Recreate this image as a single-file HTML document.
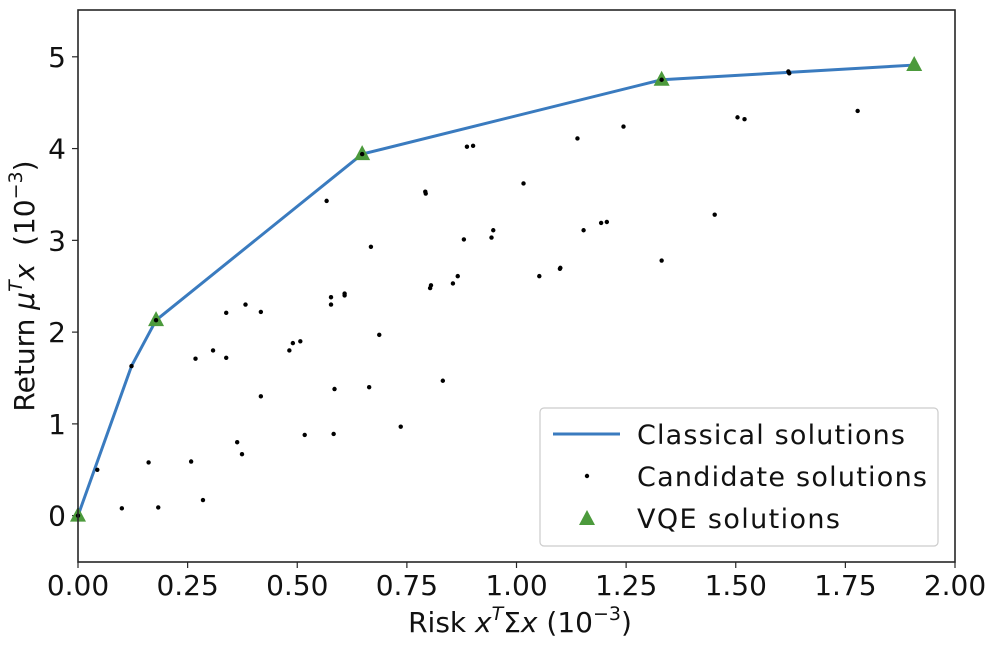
<!DOCTYPE html>
<html><head><meta charset="utf-8"><style>
body{margin:0;background:#fff;}
svg text{font-family:"DejaVu Sans","Liberation Sans",sans-serif;fill:#111;}
</style></head><body>
<svg id="chart" width="994" height="642" viewBox="0 0 994 642" xmlns="http://www.w3.org/2000/svg">
<g id="plot"></g>
<rect x="78" y="10" width="877" height="552" fill="none" stroke="#262626" stroke-width="1.6"/>
<text x="520" y="632" font-size="28" text-anchor="middle">Risk <tspan font-style="italic">x</tspan><tspan font-size="19" dy="-12" font-style="italic">T</tspan><tspan dy="12">Σ</tspan><tspan font-style="italic">x</tspan> (10<tspan font-size="19" dy="-12">−3</tspan><tspan dy="12">)</tspan></text>
<text transform="translate(34,286) rotate(-90)" font-size="28" text-anchor="middle" xml:space="preserve">Return <tspan font-style="italic">μ</tspan><tspan font-size="19" dy="-12" font-style="italic">T</tspan><tspan dy="12" font-style="italic">x</tspan>  (10<tspan font-size="19" dy="-12">−3</tspan><tspan dy="12">)</tspan></text>
<g>
<rect x="540" y="408" width="398" height="138" rx="4" fill="#fff" stroke="#ccc" stroke-width="1.2"/>
<line x1="553" y1="434" x2="620" y2="434" stroke="#3a7bbf" stroke-width="3"/>
<text x="637" y="444" font-size="27" textLength="268">Classical solutions</text>
<circle cx="587" cy="476" r="2.2" fill="#000"/>
<text x="637" y="486" font-size="27" textLength="290">Candidate solutions</text>
<polygon points="587,510 595,525 579,525" fill="#4c9a3c"/>
<text x="637" y="528" font-size="27" textLength="203">VQE solutions</text>
</g>
</svg>
<script>
const xTicks=[0,0.25,0.5,0.75,1.0,1.25,1.5,1.75,2.0];
const xTickLabels=["0.00","0.25","0.50","0.75","1.00","1.25","1.50","1.75","2.00"];
const yTicks=[0,1,2,3,4,5];
const yTickLabels=["0","1","2","3","4","5"];
const classicalX=[0,0.122,0.178,0.648,1.331,1.62,1.907];
const classicalY=[0,1.63,2.13,3.94,4.75,4.83,4.91];
const vqeX=[0,0.178,0.648,1.331,1.907];
const vqeY=[0,2.13,3.94,4.75,4.91];
const candX=[0,0.044,0.10,0.122,0.161,0.178,0.183,0.258,0.268,0.285,0.308,0.338,0.338,0.363,0.374,0.382,0.417,0.417,0.482,0.490,0.507,0.517,0.567,0.577,0.577,0.583,0.585,0.608,0.608,0.648,0.664,0.668,0.687,0.736,0.792,0.793,0.803,0.805,0.832,0.855,0.866,0.880,0.887,0.901,0.943,0.947,1.016,1.052,1.099,1.100,1.139,1.153,1.193,1.206,1.244,1.331,1.331,1.452,1.504,1.520,1.620,1.622,1.778];
const candY=[0,0.50,0.08,1.63,0.58,2.13,0.09,0.59,1.71,0.17,1.80,2.21,1.72,0.80,0.67,2.30,1.30,2.22,1.80,1.88,1.90,0.88,3.43,2.38,2.30,0.89,1.38,2.42,2.40,3.94,1.40,2.93,1.97,0.97,3.53,3.51,2.48,2.51,1.47,2.53,2.61,3.01,4.02,4.03,3.03,3.11,3.62,2.61,2.69,2.70,4.11,3.11,3.19,3.20,4.24,4.75,2.78,3.28,4.34,4.32,4.84,4.82,4.41];
const X0=78,X1=955,Y0=562,Y1=10,xmin=0,xmax=2,ymin=-0.505,ymax=5.51;
function sx(v){return X0+(v-xmin)/(xmax-xmin)*(X1-X0);}
function sy(v){return Y0-(v-ymin)/(ymax-ymin)*(Y0-Y1);}
const NS="http://www.w3.org/2000/svg";
const g=document.getElementById('plot');
function mk(t,a){const e=document.createElementNS(NS,t);for(const k in a)e.setAttribute(k,a[k]);g.appendChild(e);return e;}
xTicks.forEach((t,i)=>{
  const l=mk('line',{x1:sx(t),x2:sx(t),y1:Y0,y2:Y0+6,stroke:'#262626','stroke-width':1.2});
  
  
  const tx=mk('text',{x:sx(t),y:Y0+33,'font-size':28,'text-anchor':'middle'});
  tx.textContent=xTickLabels[i];
  
  
});
yTicks.forEach((t,i)=>{
  const l=mk('line',{x1:X0-6,x2:X0,y1:sy(t),y2:sy(t),stroke:'#262626','stroke-width':1.2});
  
  
  const tx=mk('text',{x:X0-12,y:sy(t)+10,'font-size':28,'text-anchor':'end'});
  tx.textContent=yTickLabels[i];
  
  
});
const pl=mk('polyline',{points:classicalX.map((x,i)=>sx(x)+','+sy(classicalY[i])).join(' '),fill:'none',stroke:'#3a7bbf','stroke-width':3,'stroke-linejoin':'round'});


vqeX.forEach((x,i)=>{
  const cx=sx(x),cy=sy(vqeY[i]);
  const p=mk('polygon',{points:`${cx},${cy-9} ${cx+8},${cy+6} ${cx-8},${cy+6}`,fill:'#4c9a3c'});
  
  
});
candX.forEach((x,i)=>{
  const c=mk('circle',{cx:sx(x),cy:sy(candY[i]),r:2.2,fill:'#000'});
  
  
});
</script>
</body></html>
